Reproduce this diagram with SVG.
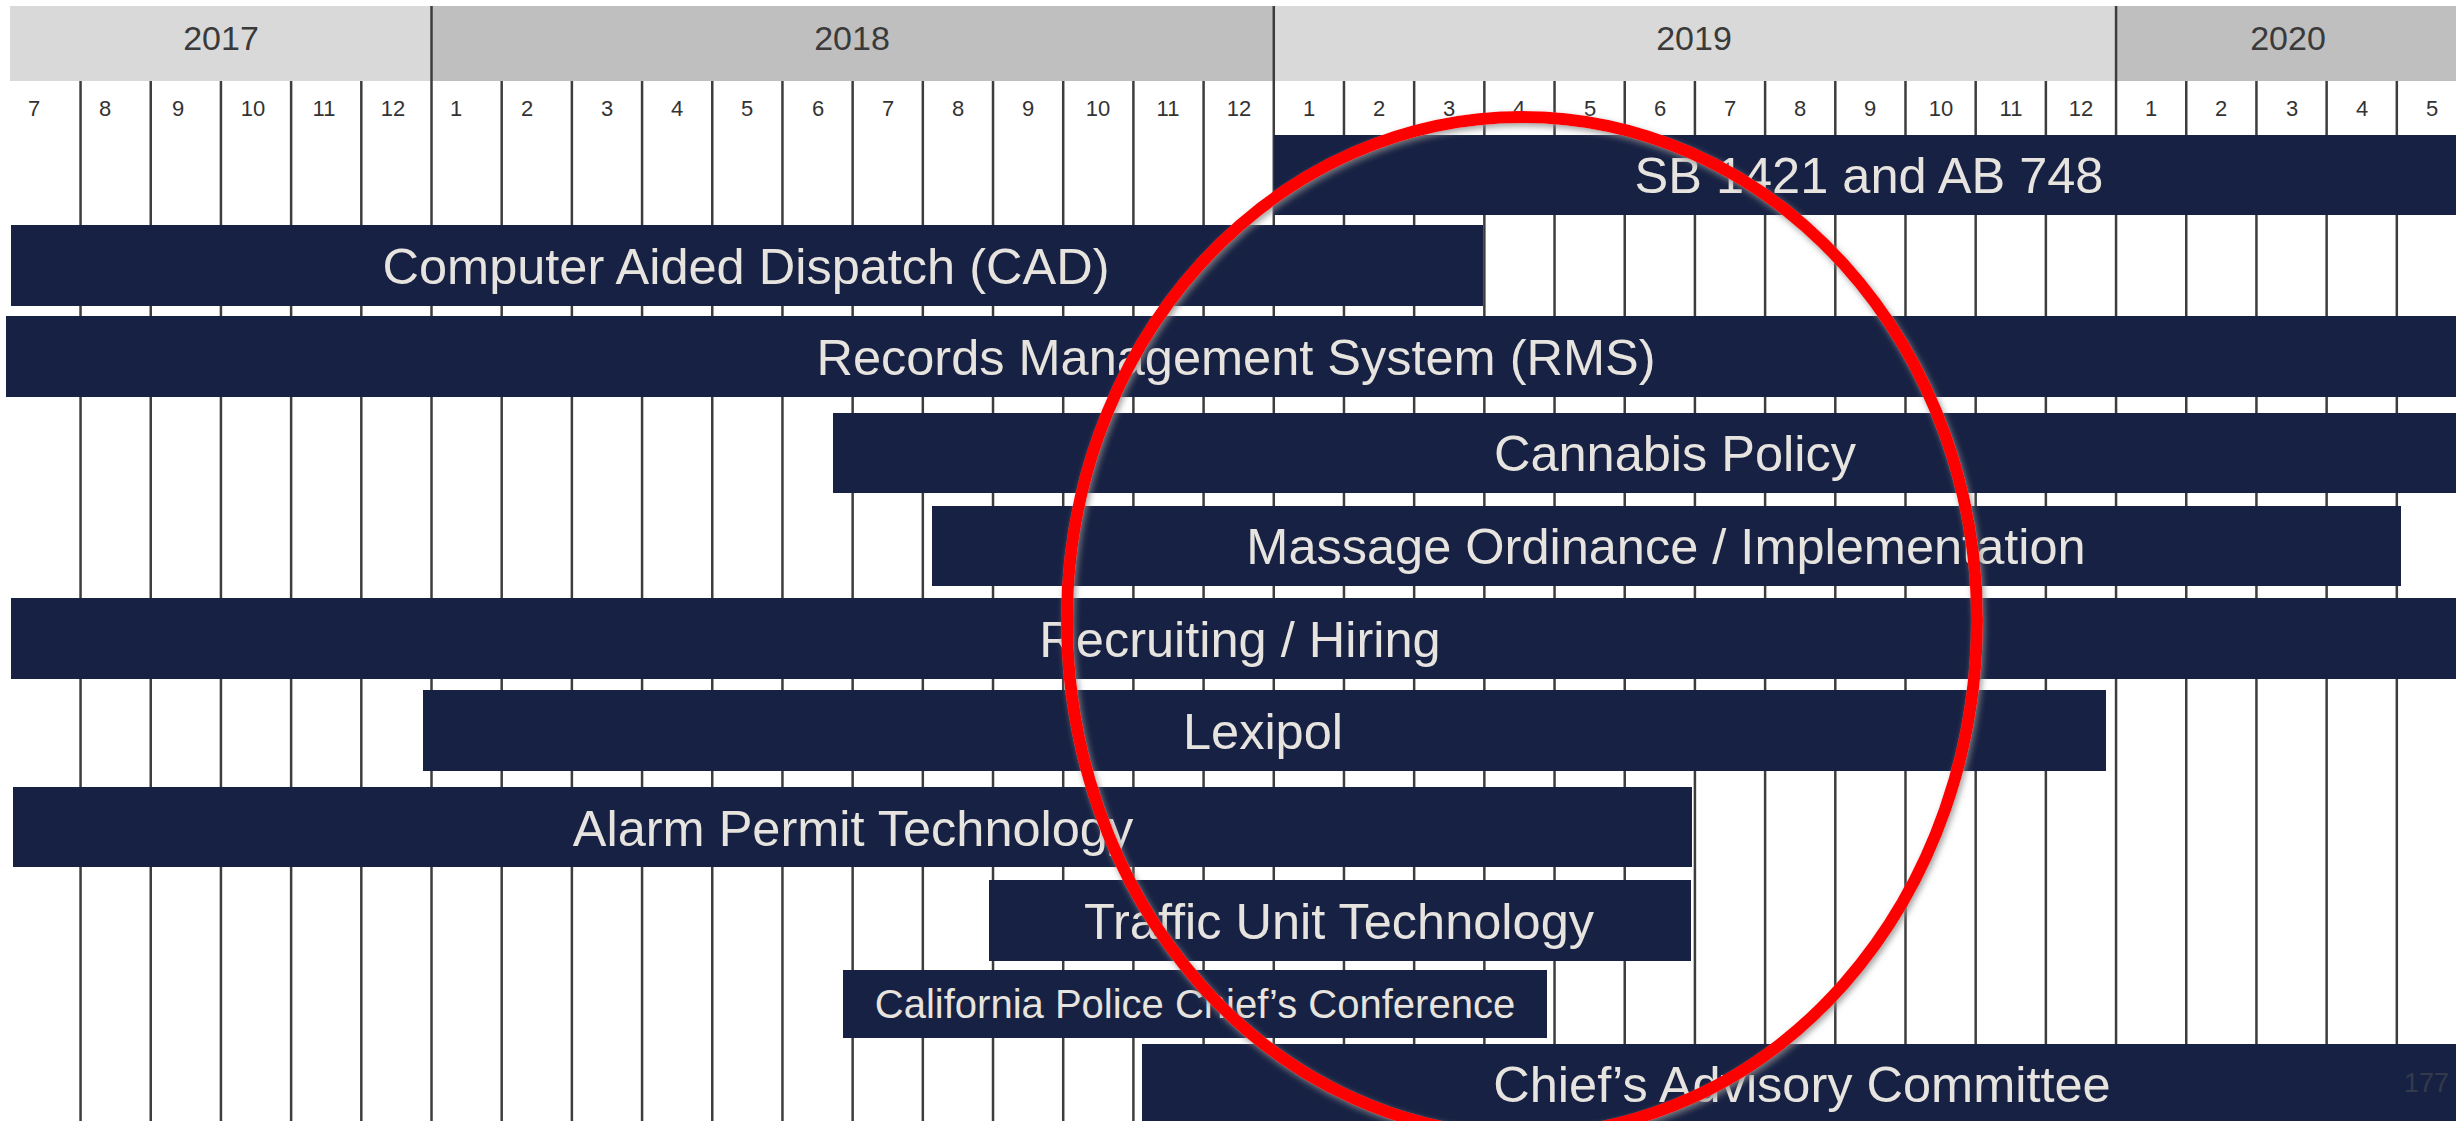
<svg xmlns="http://www.w3.org/2000/svg" width="2456" height="1121" viewBox="0 0 2456 1121">
<defs>
<style>
.yr-l{fill:#d9d9d9}
.yr-d{fill:#bfbfbf}
.yt{font-family:"Liberation Sans",Arial,sans-serif;font-size:34px;fill:#3a3a3a;text-anchor:middle}
.mt{font-family:"Liberation Sans",Arial,sans-serif;font-size:22px;fill:#333333;text-anchor:middle}
.grid line{stroke:#3d3d3d;stroke-width:2.5}
.bar{fill:#172143}
.bt{font-family:"Liberation Sans",Arial,sans-serif;font-size:50.5px;fill:#e7e4df;text-anchor:middle}
.bts{font-size:40px}
.pg{font-family:"Liberation Sans",Arial,sans-serif;font-size:27px;fill:#343a4c;text-anchor:end}
</style>
<filter id="glow" x="-10%" y="-10%" width="120%" height="120%">
<feDropShadow dx="2" dy="3" stdDeviation="3" flood-color="#8a8a8a" flood-opacity="0.8"/>
</filter>
</defs>
<rect width="2456" height="1121" fill="#ffffff"/>

<g id="year-band">
<rect class="yr-l" x="10" y="6" width="421.5" height="75"/>
<rect class="yr-d" x="431.5" y="6" width="842.3" height="75"/>
<rect class="yr-l" x="1273.8" y="6" width="842.2" height="75"/>
<rect class="yr-d" x="2116" y="6" width="340" height="75"/>
<text class="yt" x="221" y="50">2017</text>
<text class="yt" x="852" y="50">2018</text>
<text class="yt" x="1694" y="50">2019</text>
<text class="yt" x="2288" y="50">2020</text>
</g>

<g class="grid" id="grid">
<line x1="80.55" y1="81" x2="80.55" y2="1121"/>
<line x1="150.74" y1="81" x2="150.74" y2="1121"/>
<line x1="220.93" y1="81" x2="220.93" y2="1121"/>
<line x1="291.12" y1="81" x2="291.12" y2="1121"/>
<line x1="361.31" y1="81" x2="361.31" y2="1121"/>
<line x1="431.5" y1="6" x2="431.5" y2="1121"/>
<line x1="501.69" y1="81" x2="501.69" y2="1121"/>
<line x1="571.88" y1="81" x2="571.88" y2="1121"/>
<line x1="642.07" y1="81" x2="642.07" y2="1121"/>
<line x1="712.26" y1="81" x2="712.26" y2="1121"/>
<line x1="782.45" y1="81" x2="782.45" y2="1121"/>
<line x1="852.64" y1="81" x2="852.64" y2="1121"/>
<line x1="922.83" y1="81" x2="922.83" y2="1121"/>
<line x1="993.02" y1="81" x2="993.02" y2="1121"/>
<line x1="1063.21" y1="81" x2="1063.21" y2="1121"/>
<line x1="1133.4" y1="81" x2="1133.4" y2="1121"/>
<line x1="1203.59" y1="81" x2="1203.59" y2="1121"/>
<line x1="1273.78" y1="6" x2="1273.78" y2="1121"/>
<line x1="1343.97" y1="81" x2="1343.97" y2="1121"/>
<line x1="1414.16" y1="81" x2="1414.16" y2="1121"/>
<line x1="1484.35" y1="81" x2="1484.35" y2="1121"/>
<line x1="1554.54" y1="81" x2="1554.54" y2="1121"/>
<line x1="1624.73" y1="81" x2="1624.73" y2="1121"/>
<line x1="1694.92" y1="81" x2="1694.92" y2="1121"/>
<line x1="1765.11" y1="81" x2="1765.11" y2="1121"/>
<line x1="1835.3" y1="81" x2="1835.3" y2="1121"/>
<line x1="1905.49" y1="81" x2="1905.49" y2="1121"/>
<line x1="1975.68" y1="81" x2="1975.68" y2="1121"/>
<line x1="2045.87" y1="81" x2="2045.87" y2="1121"/>
<line x1="2116.06" y1="6" x2="2116.06" y2="1121"/>
<line x1="2186.25" y1="81" x2="2186.25" y2="1121"/>
<line x1="2256.44" y1="81" x2="2256.44" y2="1121"/>
<line x1="2326.63" y1="81" x2="2326.63" y2="1121"/>
<line x1="2396.82" y1="81" x2="2396.82" y2="1121"/>
</g>

<g id="month-labels">
<text class="mt" x="34" y="116">7</text>
<text class="mt" x="105" y="116">8</text>
<text class="mt" x="178" y="116">9</text>
<text class="mt" x="253" y="116">10</text>
<text class="mt" x="324" y="116">11</text>
<text class="mt" x="393" y="116">12</text>
<text class="mt" x="456" y="116">1</text>
<text class="mt" x="527" y="116">2</text>
<text class="mt" x="607" y="116">3</text>
<text class="mt" x="677" y="116">4</text>
<text class="mt" x="747" y="116">5</text>
<text class="mt" x="818" y="116">6</text>
<text class="mt" x="888" y="116">7</text>
<text class="mt" x="958" y="116">8</text>
<text class="mt" x="1028" y="116">9</text>
<text class="mt" x="1098" y="116">10</text>
<text class="mt" x="1168" y="116">11</text>
<text class="mt" x="1239" y="116">12</text>
<text class="mt" x="1309" y="116">1</text>
<text class="mt" x="1379" y="116">2</text>
<text class="mt" x="1449" y="116">3</text>
<text class="mt" x="1519" y="116">4</text>
<text class="mt" x="1590" y="116">5</text>
<text class="mt" x="1660" y="116">6</text>
<text class="mt" x="1730" y="116">7</text>
<text class="mt" x="1800" y="116">8</text>
<text class="mt" x="1870" y="116">9</text>
<text class="mt" x="1941" y="116">10</text>
<text class="mt" x="2011" y="116">11</text>
<text class="mt" x="2081" y="116">12</text>
<text class="mt" x="2151" y="116">1</text>
<text class="mt" x="2221" y="116">2</text>
<text class="mt" x="2292" y="116">3</text>
<text class="mt" x="2362" y="116">4</text>
<text class="mt" x="2432" y="116">5</text>
</g>

<g id="sb1421">
<rect class="bar" x="1274" y="135" width="1182" height="80"/>
<text class="bt" x="1869" y="193">SB 1421 and AB 748</text>
</g>
<g id="cad">
<rect class="bar" x="11" y="225" width="1472" height="81"/>
<text class="bt" x="746" y="284">Computer Aided Dispatch (CAD)</text>
</g>
<g id="rms">
<rect class="bar" x="6" y="316" width="2450" height="81"/>
<text class="bt" x="1236" y="375">Records Management System (RMS)</text>
</g>
<g id="cannabis">
<rect class="bar" x="833" y="413" width="1623" height="80"/>
<text class="bt" x="1675" y="471">Cannabis Policy</text>
</g>
<g id="massage">
<rect class="bar" x="932" y="506" width="1469" height="80"/>
<text class="bt" x="1666" y="564">Massage Ordinance / Implementation</text>
</g>
<g id="recruiting">
<rect class="bar" x="11" y="598" width="2445" height="81"/>
<text class="bt" x="1240" y="657">Recruiting / Hiring</text>
</g>
<g id="lexipol">
<rect class="bar" x="423" y="690" width="1683" height="81"/>
<text class="bt" x="1263" y="749">Lexipol</text>
</g>
<g id="alarm">
<rect class="bar" x="13" y="787" width="1679" height="80"/>
<text class="bt" x="853" y="846">Alarm Permit Technology</text>
</g>
<g id="traffic">
<rect class="bar" x="989" y="880" width="702" height="81"/>
<text class="bt" x="1339" y="939">Traffic Unit Technology</text>
</g>
<g id="california">
<rect class="bar" x="843" y="970" width="704" height="68"/>
<text class="bt bts" x="1195" y="1018">California Police Chief’s Conference</text>
</g>
<g id="advisory">
<rect class="bar" x="1142" y="1044" width="1314" height="80"/>
<text class="bt" x="1802" y="1102">Chief’s Advisory Committee</text>
</g>
<g id="page-number">
<text class="pg" x="2449" y="1092">177</text>
</g>

<g id="connectors"></g>

<g id="highlight">
<path filter="url(#glow)" fill="none" stroke="#ff0000" stroke-width="12" d="M1067,620 A455,503 0 0 1 1977,620 A455,515 0 0 1 1067,620 Z"/>
</g>
</svg>
